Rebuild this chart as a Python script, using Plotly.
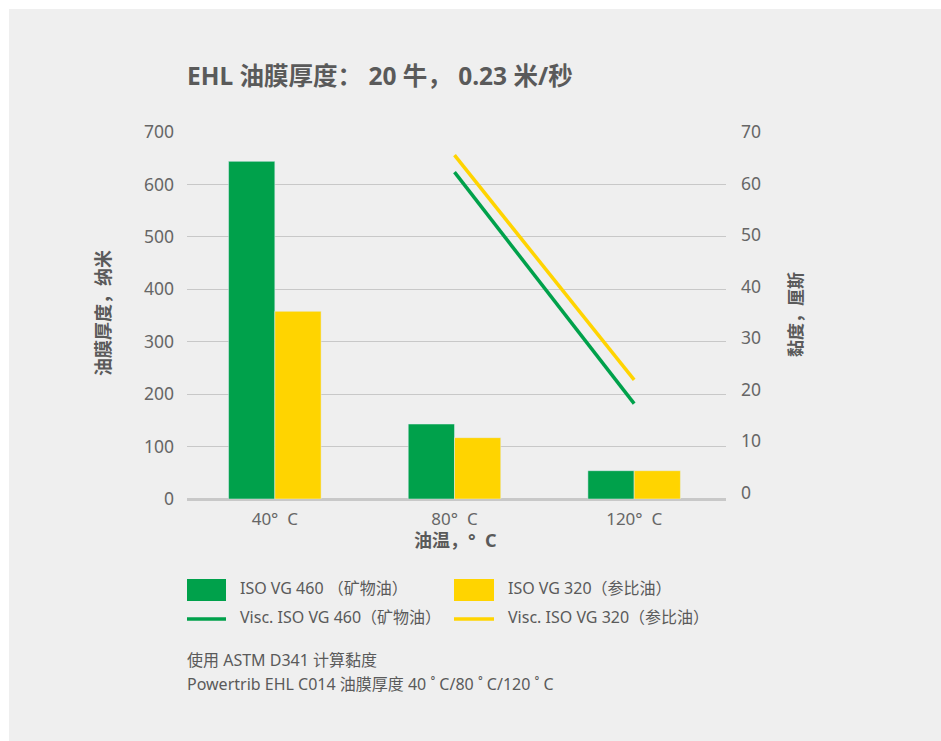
import plotly.graph_objects as go

# ---- data ----
categories = ["40°\u00a0 C", "80°\u00a0 C", "120°\u00a0 C"]
film_460 = [644, 143, 54]
film_320 = [358, 117, 54]
visc_460 = [None, 62.2, 17.3]
visc_320 = [None, 65.5, 21.9]

title_text = "EHL 油膜厚度：\u00a020 牛，\u00a00.23 米/秒"
y_title = "油膜厚度，纳米"
y2_title = "黏度，厘斯"
x_title = "油温，°\u00a0 C"
legend_labels = ["ISO VG 460 （矿物油）", "ISO VG 320（参比油）",
                 "Visc. ISO VG 460（矿物油）", "Visc. ISO VG 320（参比油）"]
notes = ["使用 ASTM D341 计算黏度",
         "Powertrib EHL C014 油膜厚度 40 ˚ C/80 ˚ C/120 ˚ C"]

GREEN = "#00A14B"
YELLOW = "#FFD400"
BG = "#EFEFEF"
TXT = "#5a5a5a"
FONT = "Noto Sans, Noto Sans CJK SC, sans-serif"

W, H = 941, 741
L, R, T, B = 187, 941 - 726, 132, 741 - 499
PW, PH = W - L - R, H - T - B


def px(x):
    return (x - L) / PW


def py(y):
    return (H - B - y) / PH


fig = go.Figure()
fig.add_trace(go.Bar(x=categories, y=film_460, marker_color=GREEN, name=legend_labels[0]))
fig.add_trace(go.Bar(x=categories, y=film_320, marker_color=YELLOW, name=legend_labels[1]))
fig.add_trace(go.Scatter(x=categories, y=visc_460, mode="lines", line=dict(color=GREEN, width=3.5),
                         yaxis="y2", name=legend_labels[2]))
fig.add_trace(go.Scatter(x=categories, y=visc_320, mode="lines", line=dict(color=YELLOW, width=3.5),
                         yaxis="y2", name=legend_labels[3]))

shapes = [
    # white strips at top/left edge
    dict(type="rect", xref="paper", yref="paper", x0=px(0), x1=px(W), y0=py(0), y1=py(9),
         fillcolor="white", line_width=0, layer="below"),
    dict(type="rect", xref="paper", yref="paper", x0=px(0), x1=px(9), y0=py(0), y1=py(H),
         fillcolor="white", line_width=0, layer="below"),
    # legend symbols
    dict(type="rect", xref="paper", yref="paper", x0=px(187), x1=px(226), y0=py(601), y1=py(579),
         fillcolor=GREEN, line_width=0),
    dict(type="rect", xref="paper", yref="paper", x0=px(454), x1=px(494), y0=py(601), y1=py(579),
         fillcolor=YELLOW, line_width=0),
    dict(type="line", xref="paper", yref="paper", x0=px(187), x1=px(226), y0=py(619), y1=py(619),
         line=dict(color=GREEN, width=3.5)),
    dict(type="line", xref="paper", yref="paper", x0=px(454), x1=px(494), y0=py(619), y1=py(619),
         line=dict(color=YELLOW, width=3.5)),
]

ann = []


def text(x, y, s, size=16, bold=False, angle=0, xanchor="left", color=TXT):
    ann.append(dict(xref="paper", yref="paper", x=px(x), y=py(y), text=f"<b>{s}</b>" if bold else s,
                    showarrow=False, xanchor=xanchor, yanchor="middle", textangle=angle,
                    font=dict(size=size, color=color, family=FONT)))


text(185, 76, title_text, size=24.5, bold=True)
text(103, 313, y_title, size=18, bold=True, angle=-90, xanchor="center")
text(795, 315, y2_title, size=17, bold=True, angle=-90, xanchor="center")
text(455, 540, x_title, size=18, bold=True, xanchor="center")
text(238, 588, legend_labels[0], size=16)
text(506, 588, legend_labels[1], size=16)
text(238, 617, legend_labels[2], size=16)
text(506, 617, legend_labels[3], size=16)
text(185, 660, notes[0], size=16)
text(185, 684, notes[1], size=16)

shift = 2 / (PW / 3)
fig.update_layout(
    width=W, height=H,
    margin=dict(l=L, r=R, t=T, b=B),
    paper_bgcolor=BG, plot_bgcolor=BG,
    font=dict(family=FONT, color="#666666", size=17),
    showlegend=False,
    barmode="group", bargap=0.485, bargroupgap=0,
    xaxis=dict(type="category", range=[-0.5 + shift, 2.5 + shift], showgrid=False,
               tickfont=dict(size=17, color="#666666"), ticks="", ticklabelstandoff=8),
    yaxis=dict(range=[0, 700], dtick=100, showgrid=True, gridcolor="#c8c8c8", gridwidth=1.3,
               zeroline=True, zerolinecolor="#c8c8c8", zerolinewidth=2.5,
               tickfont=dict(size=17.5, color="#666666"), ticks="", ticklabelstandoff=12),
    yaxis2=dict(range=[-1.22, 70], dtick=10, overlaying="y", side="right", showgrid=False,
                zeroline=False, tickfont=dict(size=17.5, color="#666666"), ticks="",
                ticklabelstandoff=14),
    shapes=shapes,
    annotations=ann,
)

fig.write_html("out.html")
